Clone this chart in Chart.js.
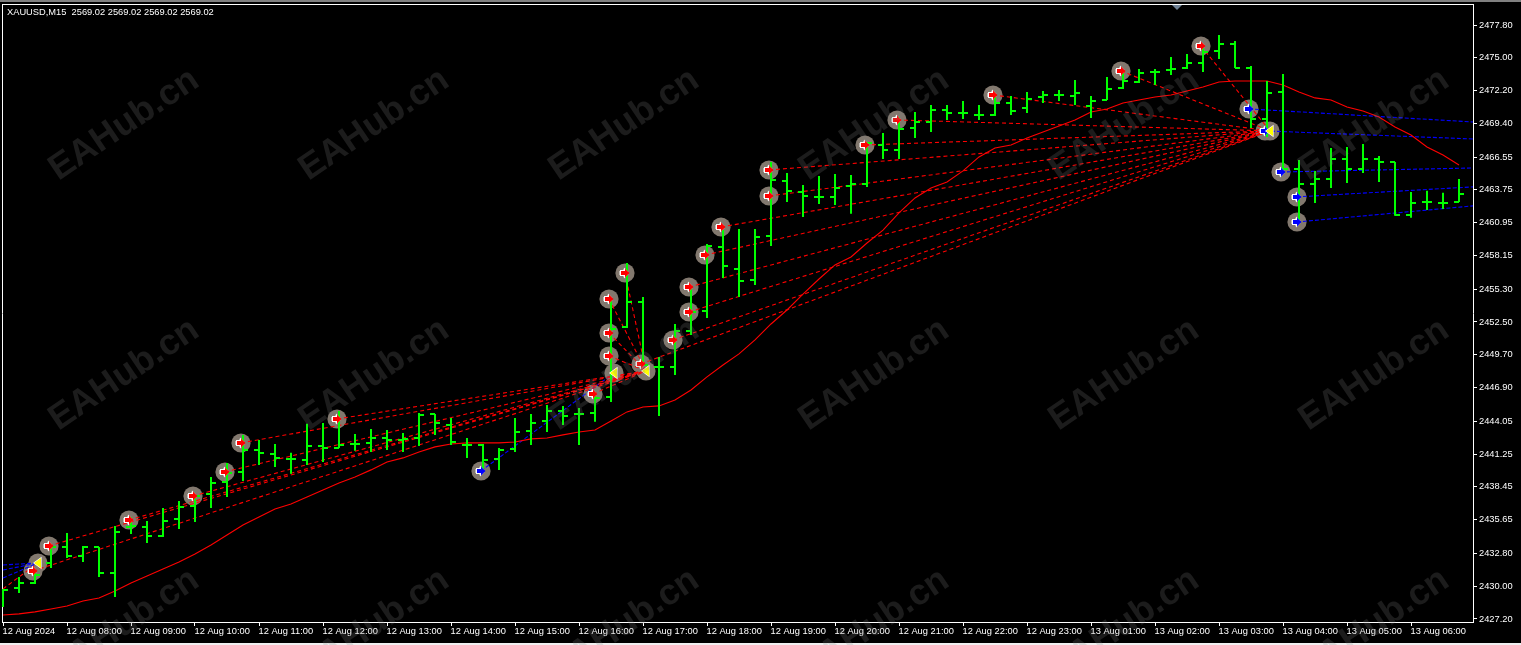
<!DOCTYPE html>
<html>
<head>
<meta charset="utf-8">
<title>XAUUSD,M15</title>
<script src="https://cdn.jsdelivr.net/npm/chart.js@4"></script>
<style>
html,body{margin:0;padding:0;background:#000;width:1521px;height:645px;overflow:hidden}
#c{position:absolute;left:0;top:0}
#band{position:absolute;left:0;top:0;width:1521px;height:2px;background:#808080}
#foot{position:absolute;left:0;top:643px;width:1521px;height:2px;background:#f0f0f0}
#shift{position:absolute;left:1172px;top:5px;width:10px;height:5px;background:#6f8296;clip-path:polygon(0 0,100% 0,50% 100%)}
#head{position:absolute;left:7px;top:6px;color:#fff;font:9.3px/12px "Liberation Sans",sans-serif;white-space:pre}
.wm{position:absolute;width:260px;margin-left:-130px;margin-top:-24px;text-align:center;font:bold 36px/48px "Liberation Sans",sans-serif;color:rgba(128,128,128,.22);transform:rotate(-34deg);pointer-events:none}
</style>
</head>
<body>
<canvas id="c" width="1521" height="645"></canvas>
<div id="band"></div><div id="foot"></div><div id="shift"></div>
<div id="head">XAUUSD,M15  2569.02 2569.02 2569.02 2569.02</div>
<script>
const headline="XAUUSD,M15";
const priceTicks=[2427.20,2430.00,2432.80,2435.65,2438.45,2441.25,2444.05,2446.90,2449.70,2452.50,2455.30,2458.15,2460.95,2463.75,2466.55,2469.40,2472.20,2475.00,2477.80];
const timeTickBars=[0,4,8,12,16,20,24,28,32,36,40,44,48,52,56,60,64,68,72,76,80,84,88];
const timeTickLabels=["12 Aug 2024","12 Aug 08:00","12 Aug 09:00","12 Aug 10:00","12 Aug 11:00","12 Aug 12:00","12 Aug 13:00","12 Aug 14:00","12 Aug 15:00","12 Aug 16:00","12 Aug 17:00","12 Aug 18:00","12 Aug 19:00","12 Aug 20:00","12 Aug 21:00","12 Aug 22:00","12 Aug 23:00","13 Aug 01:00","13 Aug 02:00","13 Aug 03:00","13 Aug 04:00","13 Aug 05:00","13 Aug 06:00"];

const barOpen=[2428.39,2429.84,2430.27,2431.97,2433.33,2432.57,2433.33,2431.12,2435.04,2435.04,2434.27,2435.72,2436.82,2437.85,2438.88,2439.73,2441.60,2441.26,2440.84,2440.75,2441.94,2441.77,2442.11,2442.20,2442.62,2442.45,2442.62,2444.67,2443.73,2442.03,2442.03,2440.84,2441.69,2443.22,2444.07,2444.92,2444.67,2444.75,2446.11,2452.08,2454.20,2448.67,2448.67,2451.73,2453.44,2458.89,2457.01,2456.08,2459.82,2464.52,2463.58,2463.16,2463.16,2464.09,2464.26,2467.58,2467.16,2469.03,2469.54,2470.56,2470.31,2470.14,2470.14,2471.16,2470.73,2471.67,2471.84,2471.76,2470.90,2471.41,2472.44,2472.95,2473.80,2473.97,2474.14,2474.57,2475.59,2476.18,2474.14,2469.80,2472.10,2465.54,2464.26,2464.69,2466.39,2465.54,2466.39,2466.13,2461.62,2462.73,2462.64,2462.73];
const barHigh=[2429.76,2430.78,2431.20,2433.33,2434.52,2433.42,2433.33,2435.12,2435.89,2435.55,2436.65,2437.25,2437.67,2439.30,2440.49,2442.88,2442.45,2442.11,2441.35,2443.82,2443.90,2444.92,2442.96,2443.39,2443.30,2443.05,2444.75,2444.67,2444.33,2442.62,2442.11,2441.77,2444.33,2444.67,2445.43,2445.35,2445.18,2446.46,2454.37,2457.53,2454.63,2449.52,2452.33,2455.48,2459.14,2460.33,2460.42,2460.42,2466.13,2465.20,2464.18,2464.94,2465.11,2465.03,2467.75,2468.60,2469.97,2470.39,2470.99,2470.99,2471.33,2470.99,2471.84,2471.76,2472.10,2472.18,2472.27,2473.12,2471.76,2473.37,2473.80,2474.05,2474.05,2475.07,2475.33,2475.84,2476.95,2476.44,2474.31,2473.03,2473.63,2466.31,2465.37,2467.33,2467.41,2467.67,2466.65,2466.13,2463.58,2463.67,2463.50,2464.69];
const barLow=[2428.22,2429.42,2430.18,2431.54,2432.40,2432.05,2430.78,2429.07,2434.44,2433.67,2434.18,2434.87,2435.46,2436.65,2437.59,2438.96,2440.32,2440.15,2439.56,2440.32,2440.58,2441.77,2441.52,2441.43,2441.60,2441.43,2441.94,2442.88,2442.03,2440.92,2439.90,2439.90,2441.43,2442.03,2443.13,2443.73,2442.03,2443.99,2445.69,2451.99,2448.84,2444.50,2447.99,2451.39,2452.84,2456.25,2454.63,2455.65,2458.97,2462.73,2461.45,2462.56,2462.47,2461.71,2464.01,2466.39,2466.39,2468.18,2468.69,2469.71,2469.80,2469.71,2470.05,2470.14,2470.31,2471.16,2471.33,2470.99,2469.88,2471.41,2472.35,2472.86,2472.69,2473.54,2474.05,2473.80,2474.90,2474.14,2469.03,2468.26,2465.45,2461.20,2462.64,2463.92,2464.35,2465.20,2464.43,2461.54,2461.37,2462.05,2462.13,2462.73];
const barClose=[2429.67,2430.27,2430.95,2433.33,2432.57,2433.33,2431.12,2434.61,2435.12,2434.27,2435.55,2436.74,2437.67,2438.79,2439.64,2441.60,2441.35,2440.92,2440.84,2441.94,2441.77,2442.03,2442.11,2442.62,2442.45,2442.54,2444.58,2443.90,2442.28,2442.03,2440.75,2441.60,2443.13,2443.90,2444.92,2444.50,2444.67,2446.03,2451.91,2454.20,2448.84,2448.67,2451.73,2453.35,2458.97,2457.27,2455.99,2459.74,2464.60,2463.67,2463.24,2463.16,2463.92,2464.26,2467.75,2467.16,2468.95,2469.54,2470.56,2470.31,2470.31,2470.14,2471.16,2470.48,2471.50,2471.84,2471.84,2472.01,2471.33,2472.35,2473.03,2473.71,2473.80,2474.05,2474.57,2475.50,2476.18,2474.14,2469.80,2472.01,2465.54,2464.26,2464.69,2466.39,2465.54,2466.39,2466.13,2461.62,2462.64,2462.73,2462.64,2463.41];
const movingAverage=[2427.54,2427.63,2427.80,2428.05,2428.31,2428.73,2428.99,2429.59,2430.27,2430.86,2431.46,2432.05,2432.74,2433.50,2434.35,2435.21,2435.89,2436.57,2436.99,2437.59,2438.19,2438.79,2439.30,2439.90,2440.58,2440.92,2441.43,2441.86,2442.11,2442.20,2442.20,2442.20,2442.28,2442.54,2442.62,2442.88,2443.13,2443.30,2444.07,2444.84,2445.26,2445.35,2445.86,2446.71,2447.82,2448.84,2449.78,2450.97,2452.33,2453.52,2454.88,2456.16,2457.36,2458.04,2459.23,2460.33,2461.79,2463.07,2463.92,2464.43,2465.37,2466.56,2467.33,2467.58,2468.18,2468.69,2469.20,2469.71,2470.39,2470.65,2471.16,2471.41,2471.67,2471.84,2472.18,2472.52,2472.95,2473.03,2473.03,2473.03,2472.69,2472.10,2471.59,2471.41,2470.82,2470.48,2469.97,2469.11,2468.43,2467.41,2466.73,2465.88];

const redBars=[2,3,8,12,14,15,21,37,38,38,38,39,40,42,43,43,44,45,48,48,54,56,62,70,75];
const redPrices=[2431.29,2433.42,2435.63,2437.67,2439.73,2442.20,2444.24,2446.37,2454.46,2451.56,2449.61,2456.67,2448.93,2450.97,2453.35,2455.48,2458.21,2460.59,2463.24,2465.45,2467.58,2469.71,2471.84,2473.89,2476.01];
const blueBars=[30,78,79,80,81,81];
const bluePrices=[2439.81,2470.65,2468.78,2465.28,2463.16,2461.02];
const yellowBars=[2,38,40,79];
const yellowPrices=[2431.97,2448.16,2448.33,2468.78];
const firstClusterCount=12;
const leftBluePrices=[2431.80,2431.37,2430.69];
const leftRedPrice=2429.76;
const rightBluePrices=[2469.54,2468.09,2465.62,2464.01,2462.39];

const xMin=-0.0625, xMax=91.875, yMin=2426.94, yMax=2479.59;
const arrowShift=-2/16, yellowShift=3/16;

function tickSprite(side){
  const c=document.createElement('canvas');c.width=12;c.height=2;
  const g=c.getContext('2d');g.fillStyle='#00ff00';
  if(side==='left')g.fillRect(1,0,5,2);else g.fillRect(6,0,5,2);
  return c;
}
function sprite(draw,dx){
  const c=document.createElement('canvas');c.width=32;c.height=24;
  const g=c.getContext('2d');g.translate(16+dx,12);draw(g);return c;
}
function disc(g){g.fillStyle='#82786e';g.beginPath();g.arc(0,0,9.6,0,Math.PI*2);g.fill();}
function arrowPath(g,ox,oy){
  g.beginPath();
  [[-4,-2],[0,-2],[0,-4.5],[4.5,0],[0,4.5],[0,2],[-4,2]].forEach((p,i)=>i?g.lineTo(p[0]+ox,p[1]+oy):g.moveTo(p[0]+ox,p[1]+oy));
  g.closePath();g.fill();
}
function arrow(col){return g=>{
  g.fillStyle='#fff';
  arrowPath(g,-1.5,0);arrowPath(g,-1,1);arrowPath(g,-1,-1);
  g.fillStyle=col;arrowPath(g,0,0);};}
function tri(g){
  g.beginPath();g.moveTo(-4,0);g.lineTo(3,-5);g.lineTo(3,5);g.closePath();
  g.lineWidth=1.2;g.strokeStyle='#fff';g.stroke();g.fillStyle='#ffff00';g.fill();
}
const discOff=sprite(disc,-2), discYel=sprite(disc,3);
const arrRed=sprite(arrow('#ff0000'),-2), arrBlue=sprite(arrow('#0000ff'),-2), triYel=sprite(tri,3);

const allBars=[...redBars,...blueBars,...yellowBars];
const allPrices=[...redPrices,...bluePrices,...yellowPrices];
const discStyles=allBars.map((_,i)=>i<redBars.length+blueBars.length?discOff:discYel);
const markStyles=allBars.map((_,i)=>i<redBars.length?arrRed:(i<redBars.length+blueBars.length?arrBlue:triYel));
const markerData=allBars.map((b,i)=>({x:b,y:allPrices[i]}));

function seg(x1,y1,x2,y2,color,dash){
  return {type:'line',data:[{x:x1,y:y1},{x:x2,y:y2}],borderColor:color,borderWidth:1.1,borderDash:dash,pointRadius:0,tension:0,order:40};
}
const trend=[];
redBars.forEach((b,i)=>{
  const t=i<firstClusterCount?2:3;
  trend.push(seg(b+arrowShift,redPrices[i],yellowBars[t]+yellowShift,yellowPrices[t],'#ff0000',[4,3]));
});
leftBluePrices.forEach(p=>trend.push(seg(0,p,yellowBars[0]+yellowShift,yellowPrices[0],'#0000ff',[4,2])));
trend.push(seg(0,leftRedPrice,yellowBars[0]+yellowShift,yellowPrices[0],'#ff0000',[4,3]));
trend.push(seg(blueBars[0]+arrowShift,bluePrices[0],yellowBars[1]+yellowShift,yellowPrices[1],'#0000ff',[4,2]));
rightBluePrices.forEach((p,i)=>trend.push(seg(blueBars[i+1]+arrowShift,bluePrices[i+1],xMax,p,'#0000ff',[4,2])));

const font={family:'"Liberation Sans",sans-serif',size:9.3};
const noPad=s=>{s.paddingTop=0;s.paddingBottom=0;s.paddingLeft=0;s.paddingRight=0;};
const thin={type:'linear',display:true,ticks:{display:false},grid:{display:false},border:{color:'#fff',width:1}};
const crisp={id:'crisp',beforeDraw(chart){chart.ctx.imageSmoothingEnabled=false;}};

new Chart(document.getElementById('c'),{
  type:'bar',
  plugins:[crisp],
  data:{datasets:[
    {type:'line',data:markerData,showLine:false,pointRadius:1,pointHoverRadius:1,pointStyle:c=>discStyles[c.dataIndex],order:50},
    ...trend,
    {type:'line',data:movingAverage.map((v,i)=>({x:i,y:v})),borderColor:'#ff0000',borderWidth:1.1,pointRadius:0,tension:0,order:30},
    {type:'bar',data:barHigh.map((h,i)=>({x:i,y:[barLow[i],h]})),backgroundColor:'#00ff00',borderWidth:0,barThickness:2,grouped:false,inflateAmount:0,order:20},
    {type:'line',data:barOpen.map((v,i)=>({x:i,y:v})),showLine:false,pointRadius:1,pointHoverRadius:1,pointStyle:tickSprite('left'),order:10},
    {type:'line',data:barClose.map((v,i)=>({x:i,y:v})),showLine:false,pointRadius:1,pointHoverRadius:1,pointStyle:tickSprite('right'),order:10},
    {type:'line',data:markerData,showLine:false,pointRadius:1,pointHoverRadius:1,pointStyle:c=>markStyles[c.dataIndex],order:5}
  ]},
  options:{
    responsive:false,animation:false,events:[],
    layout:{autoPadding:false,padding:{left:2,top:4,right:0,bottom:0}},
    plugins:{legend:{display:false},tooltip:{enabled:false},title:{display:false}},
    scales:{
      x:{type:'linear',position:'bottom',min:xMin,max:xMax,offset:false,
        grid:{display:true,offset:false,drawOnChartArea:false,drawTicks:true,tickLength:4,tickColor:'#fff'},
        border:{color:'#fff',width:1},
        ticks:{color:'#fff',font,padding:0,align:'start',labelOffset:-0.5,maxRotation:0,minRotation:0,autoSkip:false,
          callback:v=>{const i=timeTickBars.indexOf(v);return i<0?'':timeTickLabels[i];}},
        afterBuildTicks:s=>{s.ticks=timeTickBars.map(v=>({value:v}));},
        afterFit:s=>{s.height=23;noPad(s);}},
      y:{type:'linear',position:'right',min:yMin,max:yMax,
        grid:{display:true,drawOnChartArea:false,drawTicks:true,tickLength:4,tickColor:'#fff'},
        border:{color:'#fff',width:1},
        ticks:{color:'#fff',font,padding:2,crossAlign:'near',autoSkip:false,callback:v=>Number(v).toFixed(2)},
        afterBuildTicks:s=>{s.ticks=priceTicks.map(v=>({value:v}));},
        afterFit:s=>{s.width=48;noPad(s);}},
      frameTop:{...thin,axis:'x',position:'top',afterFit:s=>{s.height=0;noPad(s);}},
      frameLeft:{...thin,axis:'y',position:'left',afterFit:s=>{s.width=0;noPad(s);}}
    }
  }
});

const wmText="EAHub.cn";
[123,373,623].forEach(y=>[123,373,623,873,1123,1373].forEach(x=>{
  const d=document.createElement('div');d.className='wm';d.textContent=wmText;
  d.style.left=x+'px';d.style.top=y+'px';document.body.appendChild(d);
}));
</script>
</body>
</html>
